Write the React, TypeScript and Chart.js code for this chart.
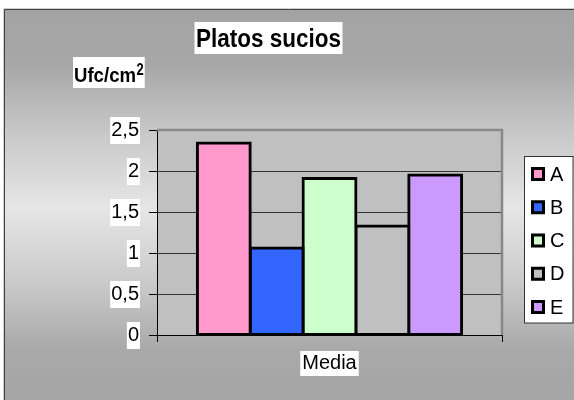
import React, { useEffect, useRef } from 'react';
import { Chart, registerables } from 'chart.js';

Chart.register(...registerables);

// Chart data
const categories = ['Media'];
const seriesNames = ['A', 'B', 'C', 'D', 'E'];
const seriesValues = [2.34, 1.06, 1.91, 1.33, 1.95];
const seriesColors = ['#ff99cc', '#3366ff', '#ccffcc', '#c0c0c0', '#cc99ff'];
const yTickLabels = ['0', '0,5', '1', '1,5', '2', '2,5'];
const chartTitle = 'Platos sucios';
const unitText = 'Ufc/cm';
const unitSup = '2';

const FONT = '"Liberation Sans", Arial, Helvetica, sans-serif';

// Gray sheet with a vertical light band, outer frame and the plot fill
const backgroundPlugin = {
  id: 'sheetBackground',
  beforeDraw(chart: any) {
    const { ctx, chartArea: a, width, height } = chart;
    ctx.save();
    ctx.fillStyle = '#ffffff';
    ctx.fillRect(0, 0, width, height);

    const g = ctx.createLinearGradient(0, 9, 0, height);
    const span = height - 9;
    const stop = (y: number, c: string) => g.addColorStop(Math.min(1, Math.max(0, (y - 9) / span)), c);
    stop(9, '#a3a3a3');
    stop(65, '#a7a7a7');
    stop(135, '#c9c9c9');
    stop(208, '#e6e6e6');
    stop(285, '#c9c9c9');
    stop(350, '#a9a9a9');
    stop(400, '#a5a5a5');
    ctx.fillStyle = g;
    ctx.fillRect(5, 10, width - 5, height - 10);

    // soft outer edge
    ctx.strokeStyle = '#d0d0d0';
    ctx.lineWidth = 1;
    ctx.beginPath();
    ctx.moveTo(3.5, height);
    ctx.lineTo(3.5, 8.5);
    ctx.lineTo(width, 8.5);
    ctx.stroke();

    // frame
    ctx.strokeStyle = '#404040';
    ctx.beginPath();
    ctx.moveTo(4.5, height);
    ctx.lineTo(4.5, 9.5);
    ctx.lineTo(width, 9.5);
    ctx.stroke();

    // plot area fill
    ctx.fillStyle = '#c0c0c0';
    ctx.fillRect(a.left, a.top, a.right - a.left, a.bottom - a.top);
    ctx.restore();
  },
  beforeDatasetsDraw(chart: any) {
    const { ctx, chartArea: a } = chart;
    ctx.save();
    ctx.strokeStyle = '#888888';
    ctx.lineWidth = 2.5;
    ctx.beginPath();
    ctx.moveTo(a.left, a.top);
    ctx.lineTo(a.right, a.top);
    ctx.lineTo(a.right, a.bottom);
    ctx.stroke();
    ctx.restore();
  },
};

// Title, unit label and legend in white boxes
const overlayPlugin = {
  id: 'sheetOverlay',
  afterDraw(chart: any) {
    const { ctx } = chart;
    ctx.save();

    // title
    ctx.font = `bold 22.5px ${FONT}`;
    const tw = ctx.measureText(chartTitle).width;
    const tcx = 268.5;
    const tBase = 46.5;
    ctx.fillStyle = '#ffffff';
    ctx.fillRect(tcx - tw / 2 - 1.5, 22, tw + 3, 32);
    ctx.fillStyle = '#000000';
    ctx.textBaseline = 'alphabetic';
    ctx.textAlign = 'left';
    ctx.save();
    ctx.translate(tcx - tw / 2, tBase);
    ctx.scale(1, 1.18);
    ctx.fillText(chartTitle, 0, 0);
    ctx.restore();

    // unit label
    const ux = 74;
    const uBase = 81.7;
    ctx.font = `bold 18.6px ${FONT}`;
    const uw = ctx.measureText(unitText).width;
    ctx.font = `bold 13px ${FONT}`;
    const sw = ctx.measureText(unitSup).width;
    ctx.fillStyle = '#ffffff';
    ctx.fillRect(ux - 1, 57, uw + sw + 2.5, 31);
    ctx.fillStyle = '#000000';
    ctx.save();
    ctx.translate(ux, uBase);
    ctx.scale(1, 1.11);
    ctx.font = `bold 18.6px ${FONT}`;
    ctx.fillText(unitText, 0, 0);
    ctx.restore();
    ctx.save();
    ctx.translate(ux + uw + 0.5, 75);
    ctx.scale(1, 1.2);
    ctx.font = `bold 13px ${FONT}`;
    ctx.fillText(unitSup, 0, 0);
    ctx.restore();

    // legend
    const lx = 524;
    const ly = 156;
    ctx.fillStyle = '#ffffff';
    ctx.fillRect(lx, ly, 49, 167);
    ctx.strokeStyle = '#333333';
    ctx.lineWidth = 1;
    ctx.strokeRect(lx + 0.5, ly + 0.5, 48.5, 166.5);
    ctx.font = `20px ${FONT}`;
    ctx.textBaseline = 'middle';
    chart.data.datasets.forEach((ds: any, i: number) => {
      const cy = 174 + i * 33.25;
      ctx.fillStyle = '#000000';
      ctx.fillRect(531, cy - 7, 14, 14);
      ctx.fillStyle = ds.backgroundColor;
      ctx.fillRect(534, cy - 4, 8, 8);
      ctx.fillStyle = '#000000';
      ctx.fillText(ds.label, 550, cy + 1);
    });

    ctx.restore();
  },
};

export default function App() {
  const canvasRef = useRef<HTMLCanvasElement | null>(null);

  useEffect(() => {
    if (!canvasRef.current) return;
    const chart = new Chart(canvasRef.current, {
      type: 'bar',
      data: {
        labels: categories,
        datasets: seriesNames.map((name, i) => ({
          label: name,
          data: [seriesValues[i]],
          backgroundColor: seriesColors[i],
          borderColor: '#000000',
          borderWidth: 3,
          borderSkipped: false,
          inflateAmount: 1.5,
          categoryPercentage: 0.766,
          barPercentage: 1,
        })),
      },
      options: {
        responsive: false,
        animation: false,
        events: [],
        layout: { padding: { left: 0, top: 130, right: 72, bottom: 0 } },
        plugins: {
          legend: { display: false },
          title: { display: false },
          tooltip: { enabled: false },
        },
        scales: {
          x: {
            afterFit: (s: any) => {
              s.height = 65;
            },
            grid: {
              display: true,
              drawOnChartArea: false,
              drawTicks: true,
              tickLength: 7,
              color: '#000000',
              lineWidth: 1,
            },
            border: { display: true, color: '#000000', width: 1 },
            ticks: {
              color: '#000000',
              font: { family: FONT, size: 20 },
              padding: 9,
              showLabelBackdrop: true,
              backdropColor: '#ffffff',
              backdropPadding: { top: 0, bottom: 1, left: 2, right: 2 },
            },
          },
          y: {
            min: 0,
            max: 2.5,
            afterFit: (s: any) => {
              s.width = 157;
            },
            grid: {
              color: (c: any) => (c.tick && c.tick.value === 2.5 ? '#888888' : '#333333'),
              tickColor: '#000000',
              tickLength: 8,
              lineWidth: 1,
            },
            border: { display: true, color: '#000000', width: 1 },
            ticks: {
              stepSize: 0.5,
              color: '#000000',
              font: { family: FONT, size: 20 },
              padding: 10,
              callback: (_v: any, i: number) => yTickLabels[i],
              showLabelBackdrop: true,
              backdropColor: '#ffffff',
              backdropPadding: { top: 1, bottom: 2, left: 1, right: 1 },
            },
          },
        },
      },
      plugins: [backgroundPlugin, overlayPlugin],
    } as any);
    return () => chart.destroy();
  }, []);

  return (
    <div style={{ position: 'absolute', left: 0, top: 0, width: 574, height: 400 }}>
      <canvas ref={canvasRef} width={574} height={400} style={{ display: 'block' }} />
    </div>
  );
}
